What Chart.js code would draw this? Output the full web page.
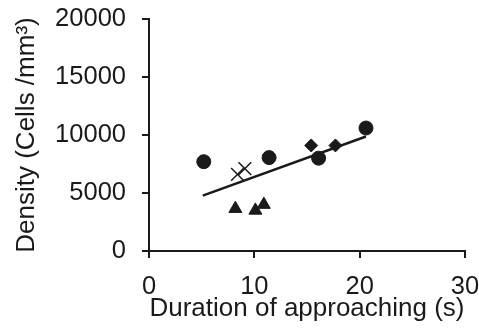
<!DOCTYPE html>
<html>
<head>
<meta charset="utf-8">
<script src="https://cdn.jsdelivr.net/npm/chart.js@4"></script>
<style>
  html, body { margin: 0; padding: 0; background: #fff; }
  #wrap { width: 479px; height: 329px; }
</style>
</head>
<body>
<div id="wrap"><canvas id="chart" width="479" height="329"></canvas></div>
<script>
// values
const circleX = [5.2, 11.4, 16.1, 20.6];
const circleY = [7700, 8050, 8000, 10600];
const crossX = [8.4, 9.1];
const crossY = [6600, 7100];
const diamondX = [15.4, 17.7];
const diamondY = [9100, 9100];
const triangleX = [8.2, 10.1, 10.9];
const triangleY = [3650, 3500, 4000];
const fitX = [5.1, 20.6];
const fitY = [4780, 9870];

const xTicks = [0, 10, 20, 30];
const yTicks = [0, 5000, 10000, 15000, 20000];

function pts(xs, ys) {
    return xs.map((x, i) => ({ x: x, y: ys[i] }));
}

const ink = '#1a1a1a';
const tickFont = { family: 'Liberation Sans, Arial, sans-serif', size: 25.5 };
const titleFont = { family: 'Liberation Sans, Arial, sans-serif', size: 26 };

new Chart(document.getElementById('chart'), {
    type: 'scatter',
    data: {
        datasets: [
            {
                data: pts(fitX, fitY),
                showLine: true,
                borderColor: ink,
                borderWidth: 2.5,
                pointRadius: 0
            },
            {
                data: pts(circleX, circleY),
                pointStyle: 'circle',
                pointRadius: 7,
                backgroundColor: ink,
                borderColor: ink
            },
            {
                data: pts(crossX, crossY),
                pointStyle: 'crossRot',
                pointRadius: 9,
                borderWidth: 1.5,
                borderColor: ink
            },
            {
                data: pts(diamondX, diamondY),
                pointStyle: 'rectRot',
                pointRadius: 6.5,
                backgroundColor: ink,
                borderColor: ink
            },
            {
                data: pts(triangleX, triangleY),
                pointStyle: 'triangle',
                pointRadius: 7.5,
                backgroundColor: ink,
                borderColor: ink
            }
        ]
    },
    options: {
        responsive: false,
        animation: false,
        events: [],
        layout: { padding: 0 },
        plugins: { legend: { display: false }, tooltip: { enabled: false } },
        scales: {
            x: {
                type: 'linear',
                min: 0,
                max: 30,
                afterBuildTicks: (s) => { s.ticks = xTicks.map(v => ({ value: v })); },
                afterFit: (s) => { s.height = 78; s.paddingLeft = 0; s.paddingRight = 14; },
                grid: { display: true, drawOnChartArea: false, color: ink, lineWidth: 2, tickLength: 7 },
                border: { color: ink, width: 2 },
                ticks: { color: ink, font: tickFont, padding: 14, maxRotation: 0 },
                title: { display: true, text: 'Duration of approaching (s)', color: ink, font: titleFont, padding: { top: 0, bottom: 5 } }
            },
            y: {
                type: 'linear',
                min: 0,
                max: 20000,
                afterBuildTicks: (s) => { s.ticks = yTicks.map(v => ({ value: v })); },
                afterFit: (s) => { s.width = 149; s.paddingTop = 19; s.paddingBottom = 0; },
                grid: { display: true, drawOnChartArea: false, color: ink, lineWidth: 2, tickLength: 7 },
                border: { color: ink, width: 2 },
                ticks: { color: ink, font: tickFont, padding: 16, callback: (v) => String(v) },
                title: { display: true, text: 'Density (Cells /mm\u00B3)', color: ink, font: titleFont, padding: { top: 11, bottom: 0 } }
            }
        }
    }
});
</script>
</body>
</html>
